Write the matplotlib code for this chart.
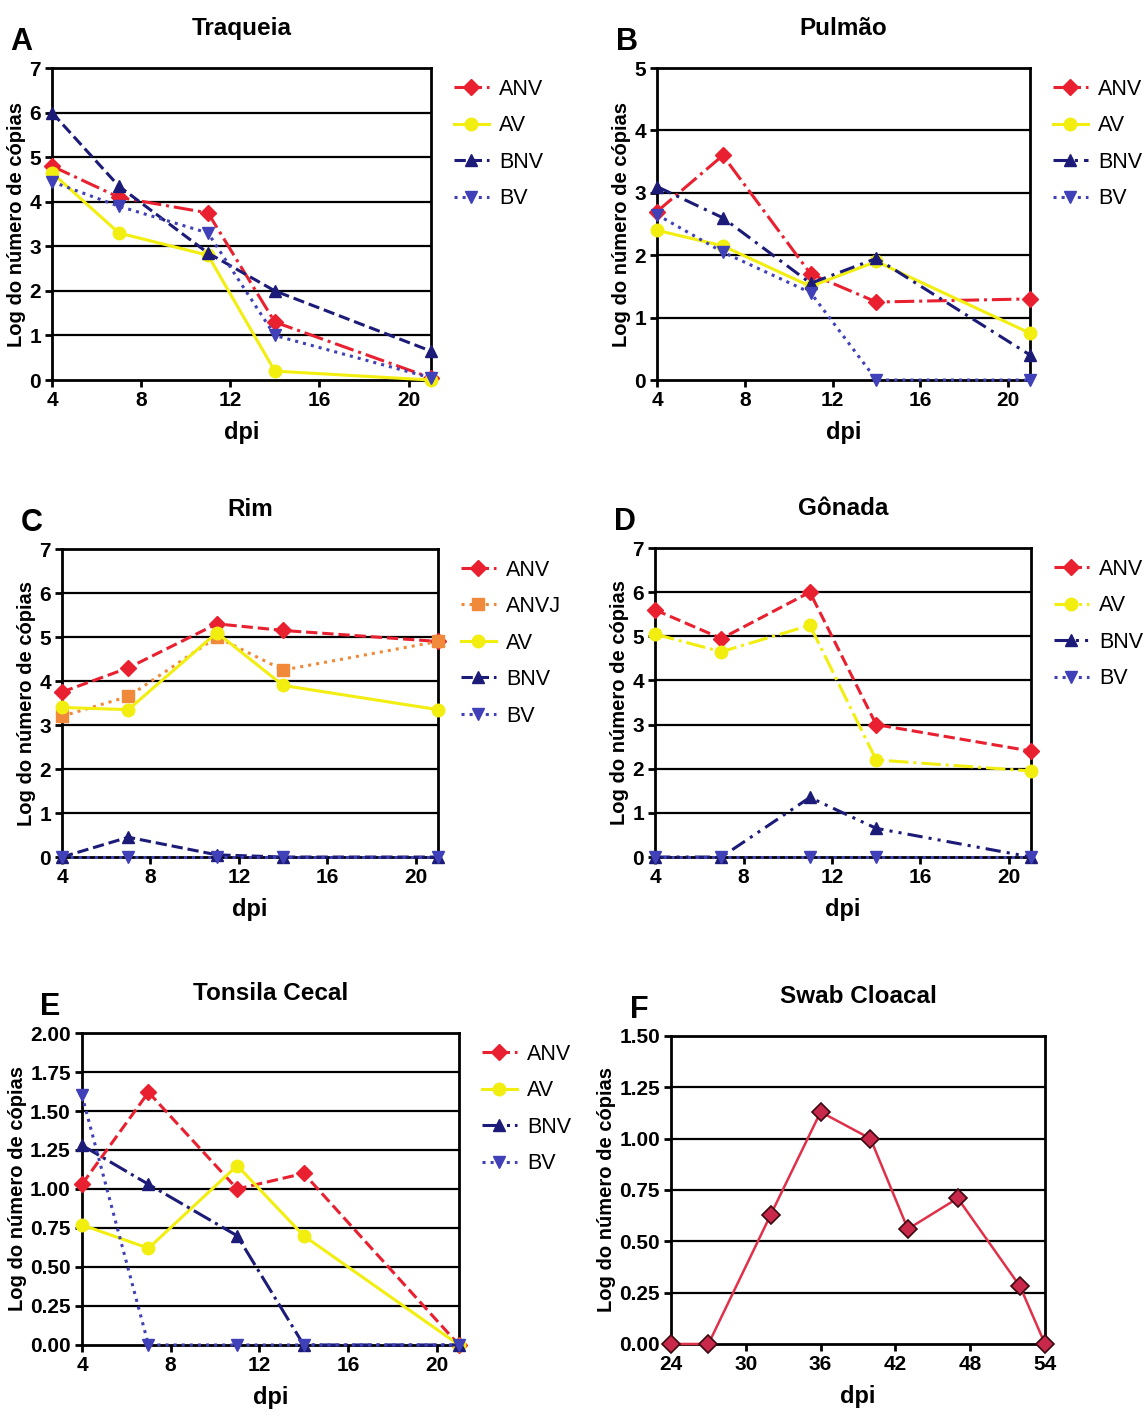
import matplotlib
matplotlib.use('Agg')
import matplotlib.pyplot as plt

plt.rcParams['font.family'] = ['Liberation Sans', 'DejaVu Sans']

dpi_x = [4, 7, 11, 14, 21]

# A - Traqueia
tra_anv = [4.8, 4.1, 3.75, 1.3, 0.05]
tra_av = [4.65, 3.3, 2.8, 0.2, 0.0]
tra_bnv = [6.0, 4.35, 2.85, 2.0, 0.65]
tra_bv = [4.45, 3.9, 3.3, 1.0, 0.05]

# B - Pulmao
pul_anv = [2.7, 3.6, 1.7, 1.25, 1.3]
pul_av = [2.4, 2.15, 1.5, 1.9, 0.75]
pul_bnv = [3.1, 2.6, 1.55, 1.95, 0.4]
pul_bv = [2.65, 2.05, 1.4, 0.0, 0.0]

# C - Rim
rim_anv = [3.75, 4.3, 5.3, 5.15, 4.9]
rim_anvj = [3.2, 3.65, 5.0, 4.25, 4.9]
rim_av = [3.4, 3.35, 5.1, 3.9, 3.35]
rim_bnv = [0.0, 0.45, 0.05, 0.0, 0.0]
rim_bv = [0.0, 0.0, 0.0, 0.0, 0.0]

# D - Gonada
gon_anv = [5.6, 4.95, 6.0, 3.0, 2.4]
gon_av = [5.05, 4.65, 5.25, 2.2, 1.95]
gon_bnv = [0.0, 0.0, 1.35, 0.65, 0.0]
gon_bv = [0.0, 0.0, 0.0, 0.0, 0.0]

# E - Tonsila cecal
ton_anv = [1.03, 1.62, 1.0, 1.1, 0.0]
ton_av = [0.77, 0.62, 1.15, 0.70, 0.0]
ton_bnv = [1.28, 1.03, 0.70, 0.0, 0.0]
ton_bv = [1.60, 0.0, 0.0, 0.0, 0.0]

# F - Swab cloacal
swab_x = [24, 27, 32, 36, 40, 43, 47, 52, 54]
swab_y = [0.0, 0.0, 0.63, 1.13, 1.0, 0.56, 0.71, 0.28, 0.0]

RED = '#e82030'
YEL = '#f2ee10'
NAVY = '#1c1c78'
BLUE = '#4040b8'
ORA = '#f08a3a'

ylab = 'Log do número de cópias'

fig = plt.figure(figsize=(11.48, 14.18), dpi=100)


def setup(ax, ymax, ystep, fmt, title, letter, xt=(4, 8, 12, 16, 20), xlim=(4, 21)):
    ax.set_xlim(*xlim)
    ax.set_ylim(0, ymax)
    yt = [i * ystep for i in range(int(round(ymax / ystep)) + 1)]
    ax.set_yticks(yt)
    ax.set_yticklabels([fmt.format(v) for v in yt])
    ax.set_xticks(xt)
    for v in yt[1:-1]:
        ax.axhline(v, color='black', lw=1.6, zorder=1)
    for s in ax.spines.values():
        s.set_linewidth(2)
    ax.tick_params(direction='out', length=5, width=2, labelsize=15, pad=3)
    for lab in ax.get_xticklabels() + ax.get_yticklabels():
        lab.set_fontweight('bold')
    ax.set_xlabel('dpi', fontsize=17, fontweight='bold', labelpad=8)
    ax.set_ylabel(ylab, fontsize=14.5, fontweight='bold', labelpad=2)
    ax.set_title(title, fontsize=17.5, fontweight='bold', pad=24)
    ax.text(-0.11, 1.035, letter, transform=ax.transAxes, fontsize=22,
            fontweight='bold', ha='left', va='bottom')


def series(ax, y, color, ls, marker, label, ms=9):
    ax.plot(dpi_x, y, color=color, ls=ls, lw=2.2, marker=marker, ms=ms,
            label=label, clip_on=False, zorder=3)


def leg(ax):
    ax.legend(loc='upper left', bbox_to_anchor=(1.05, 0.98), frameon=False,
              fontsize=15.5, handlelength=1.6, labelspacing=0.72, handletextpad=0.5,
              borderaxespad=0.0, borderpad=0.2)


# A
axA = fig.add_axes([0.0453, 0.732, 0.330, 0.220])
series(axA, tra_anv, RED, '-.', 'D', 'ANV', 8)
series(axA, tra_av, YEL, '-', 'o', 'AV')
series(axA, tra_bnv, NAVY, '--', '^', 'BNV')
series(axA, tra_bv, BLUE, ':', 'v', 'BV')
setup(axA, 7, 1, '{:g}', 'Traqueia', 'A')
leg(axA)

# B
axB = fig.add_axes([0.5723, 0.732, 0.325, 0.220])
series(axB, pul_anv, RED, '-.', 'D', 'ANV', 8)
series(axB, pul_av, YEL, '-', 'o', 'AV')
series(axB, pul_bnv, NAVY, (0, (5, 2, 1, 2)), '^', 'BNV')
series(axB, pul_bv, BLUE, ':', 'v', 'BV')
setup(axB, 5, 1, '{:g}', 'Pulmão', 'B')
leg(axB)

# C
axC = fig.add_axes([0.054, 0.3956, 0.3275, 0.2172])
series(axC, rim_anv, RED, '--', 'D', 'ANV', 8)
series(axC, rim_anvj, ORA, ':', 's', 'ANVJ')
series(axC, rim_av, YEL, '-', 'o', 'AV')
series(axC, rim_bnv, NAVY, '--', '^', 'BNV')
series(axC, rim_bv, BLUE, ':', 'v', 'BV')
setup(axC, 7, 1, '{:g}', 'Rim', 'C')
leg(axC)

# D
axD = fig.add_axes([0.5706, 0.3956, 0.3275, 0.2179])
series(axD, gon_anv, RED, '--', 'D', 'ANV', 8)
series(axD, gon_av, YEL, '-.', 'o', 'AV')
series(axD, gon_bnv, NAVY, (0, (5, 2, 1, 2, 1, 2)), '^', 'BNV')
series(axD, gon_bv, BLUE, ':', 'v', 'BV')
setup(axD, 7, 1, '{:g}', 'Gônada', 'D')
leg(axD)

# E
axE = fig.add_axes([0.0714, 0.0515, 0.3284, 0.220])
series(axE, ton_anv, RED, '--', 'D', 'ANV', 8)
series(axE, ton_av, YEL, '-', 'o', 'AV')
series(axE, ton_bnv, NAVY, '-.', '^', 'BNV')
series(axE, ton_bv, BLUE, ':', 'v', 'BV')
setup(axE, 2.0, 0.25, '{:.2f}', 'Tonsila Cecal', 'E')
leg(axE)

# F
axF = fig.add_axes([0.5845, 0.0522, 0.3258, 0.2172])
axF.plot(swab_x, swab_y, color='#e0304a', lw=1.8, marker='D', ms=9,
         markerfacecolor='#c8284a', markeredgecolor='#3a0a10', markeredgewidth=1.2,
         clip_on=False, zorder=3)
setup(axF, 1.5, 0.25, '{:.2f}', 'Swab Cloacal', 'F',
      xt=(24, 30, 36, 42, 48, 54), xlim=(24, 54))

fig.savefig('out.png', dpi=100, facecolor='white')
